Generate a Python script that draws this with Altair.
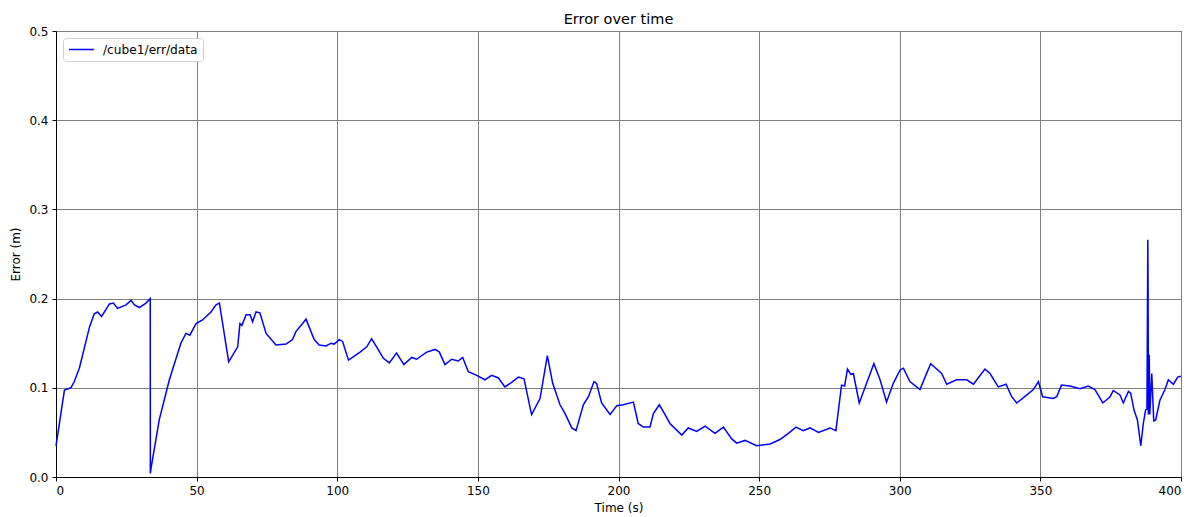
import altair as alt
import pandas as pd

time_s = [0, 3, 5.3, 6.5, 8.3, 11.9, 13.6, 14.8, 16.2, 19, 20.4, 21.9, 24.9, 26.7, 27.9, 29.6, 32, 33.5,
          33.55, 33.8, 36.7, 40.3, 44.4, 46.2, 47.6, 49.8, 52.1, 55.1, 56.9, 58.1, 61.4, 64.6, 65.4, 66.1,
          67.6, 69, 69.9, 71.1, 72.5, 74.7, 78.2, 81.8, 84.1, 85.3, 87.7, 88.9, 91.8, 93.6, 96, 97.8, 98.9,
          100.7, 101.9, 104, 106.7, 108.1, 110.5, 112.2, 114, 116.4, 118.5, 121.1, 123.7, 126.5, 128.2,
          131.8, 134.8, 136.3, 138.3, 140.7, 143, 144.6, 146.6, 149.6, 152.5, 154.9, 157.3, 159.6, 162,
          164.4, 166.4, 169.1, 172.1, 174.7, 176.6, 179.2, 181, 183.4, 184.9, 187.5, 189.3, 191.3, 192.2,
          194, 197, 199.4, 201.7, 205.3, 207, 208.8, 211.2, 212.4, 214.5, 216, 218.3, 222.5, 224.8, 227.8,
          230.8, 234.3, 237.3, 240.2, 242, 245, 249.1, 253.9, 257.4, 260.4, 263.1, 265.7, 268.1, 271.1,
          275.2, 277.3, 279.3, 280.4, 281.4, 282.6, 283.5, 285.6, 288.2, 290.8, 293, 295.3, 297.7, 300.1,
          301.3, 303.6, 307.2, 309, 311, 314.9, 316.7, 320.2, 323.8, 326.2, 330.3, 332.1, 335, 337.8, 339.8,
          341.6, 345.2, 347.5, 349.3, 350.8, 354.6, 355.8, 357.5, 360.5, 364.1, 367, 369.4, 372.2, 374.8,
          375.9, 378.3, 379.5, 381.3, 382.1, 383.3, 384.5, 385.7, 386.6, 387.4, 387.9, 388.2, 388.3, 388.4,
          388.7, 388.9, 389.6, 390.3, 391, 392.5, 394.3, 395.5, 397.3, 398.8, 400]

error_m = [0.035, 0.0975, 0.100, 0.107, 0.122, 0.168, 0.183, 0.185, 0.180, 0.194, 0.195, 0.189, 0.193, 0.198,
           0.193, 0.190, 0.195, 0.200,
           0.004, 0.010, 0.064, 0.109, 0.150, 0.161, 0.159, 0.172, 0.176, 0.185, 0.193, 0.195, 0.129, 0.146,
           0.172, 0.170, 0.182, 0.182, 0.174, 0.185, 0.184, 0.161, 0.148, 0.149, 0.154, 0.163, 0.172, 0.177,
           0.154, 0.148, 0.147, 0.150, 0.149, 0.154, 0.152, 0.131, 0.137, 0.140, 0.146, 0.155, 0.146, 0.133,
           0.128, 0.139, 0.126, 0.134, 0.132, 0.140, 0.143, 0.140, 0.126, 0.132, 0.130, 0.134, 0.118, 0.114,
           0.109, 0.114, 0.111, 0.101, 0.106, 0.112, 0.110, 0.070, 0.088, 0.136, 0.105, 0.081, 0.071, 0.055,
           0.052, 0.081, 0.090, 0.107, 0.105, 0.083, 0.070, 0.080, 0.081, 0.084, 0.060, 0.056, 0.056, 0.071,
           0.081, 0.073, 0.060, 0.047, 0.055, 0.051, 0.057, 0.049, 0.056, 0.043, 0.038, 0.041, 0.035, 0.037,
           0.042, 0.049, 0.056, 0.052, 0.055, 0.050, 0.055, 0.052, 0.103, 0.102, 0.121, 0.115, 0.116, 0.083,
           0.105, 0.127, 0.109, 0.084, 0.105, 0.120, 0.122, 0.107, 0.098, 0.112, 0.127, 0.116, 0.104, 0.109,
           0.109, 0.104, 0.121, 0.116, 0.101, 0.104, 0.090, 0.083, 0.092, 0.098, 0.107, 0.090, 0.088, 0.090,
           0.103, 0.102, 0.099, 0.102, 0.098, 0.083, 0.090, 0.097, 0.092, 0.083, 0.096, 0.094, 0.075, 0.064,
           0.035, 0.060, 0.075, 0.076, 0.266, 0.208, 0.070, 0.137, 0.070, 0.116, 0.063, 0.064, 0.086, 0.098,
           0.109, 0.104, 0.112, 0.113]

series_name = "/cube1/err/data"

df = pd.DataFrame({"t": time_s, "err": error_m, "series": series_name})

FONT = "DejaVu Sans"

chart = alt.Chart(df).mark_line(strokeWidth=1.5, interpolate="linear").encode(
    x=alt.X("t:Q", title="Time (s)",
            scale=alt.Scale(domain=[0, 400], nice=False, zero=False),
            axis=alt.Axis(values=list(range(0, 401, 50)), format="d")),
    y=alt.Y("err:Q", title="Error (m)",
            scale=alt.Scale(domain=[0, 0.5], nice=False),
            axis=alt.Axis(values=[0, 0.1, 0.2, 0.3, 0.4, 0.5], format=".1f")),
    color=alt.Color("series:N", scale=alt.Scale(domain=[series_name], range=["#0000ff"]),
                    legend=alt.Legend(title=None, orient="top-left", symbolType="stroke",
                                      symbolStrokeWidth=1.5, symbolSize=625, clipHeight=13,
                                      labelFont=FONT, labelFontSize=12.2, labelColor="#000000",
                                      labelOffset=8,
                                      strokeColor="#d0d0d0", cornerRadius=3, padding=5,
                                      fillColor="#ffffff", offset=7)),
    order="t:Q",
).properties(
    width=1125, height=446,
    title=alt.Title("Error over time", font=FONT, fontSize=14.5, fontWeight="normal",
                    color="#000000", offset=0, dy=2),
    autosize=alt.AutoSizeParams(type="none"),
    padding={"left": 56, "top": 31, "right": 14, "bottom": 40},
).configure_axis(
    grid=True, gridColor="#808080", gridOpacity=1, gridWidth=1,
    domainColor="#000000", domainWidth=1,
    tickColor="#000000", tickSize=4, tickWidth=1,
    labelFont=FONT, labelFontSize=12, labelColor="#000000", labelPadding=4,
    titleFont=FONT, titleFontSize=12, titleFontWeight="normal", titleColor="#000000",
).configure_axisX(titlePadding=6).configure_axisY(titlePadding=6).configure_view(
    stroke="#000000", strokeWidth=1
)

chart.save("out.html", embed_options={"renderer": "svg", "actions": False})
